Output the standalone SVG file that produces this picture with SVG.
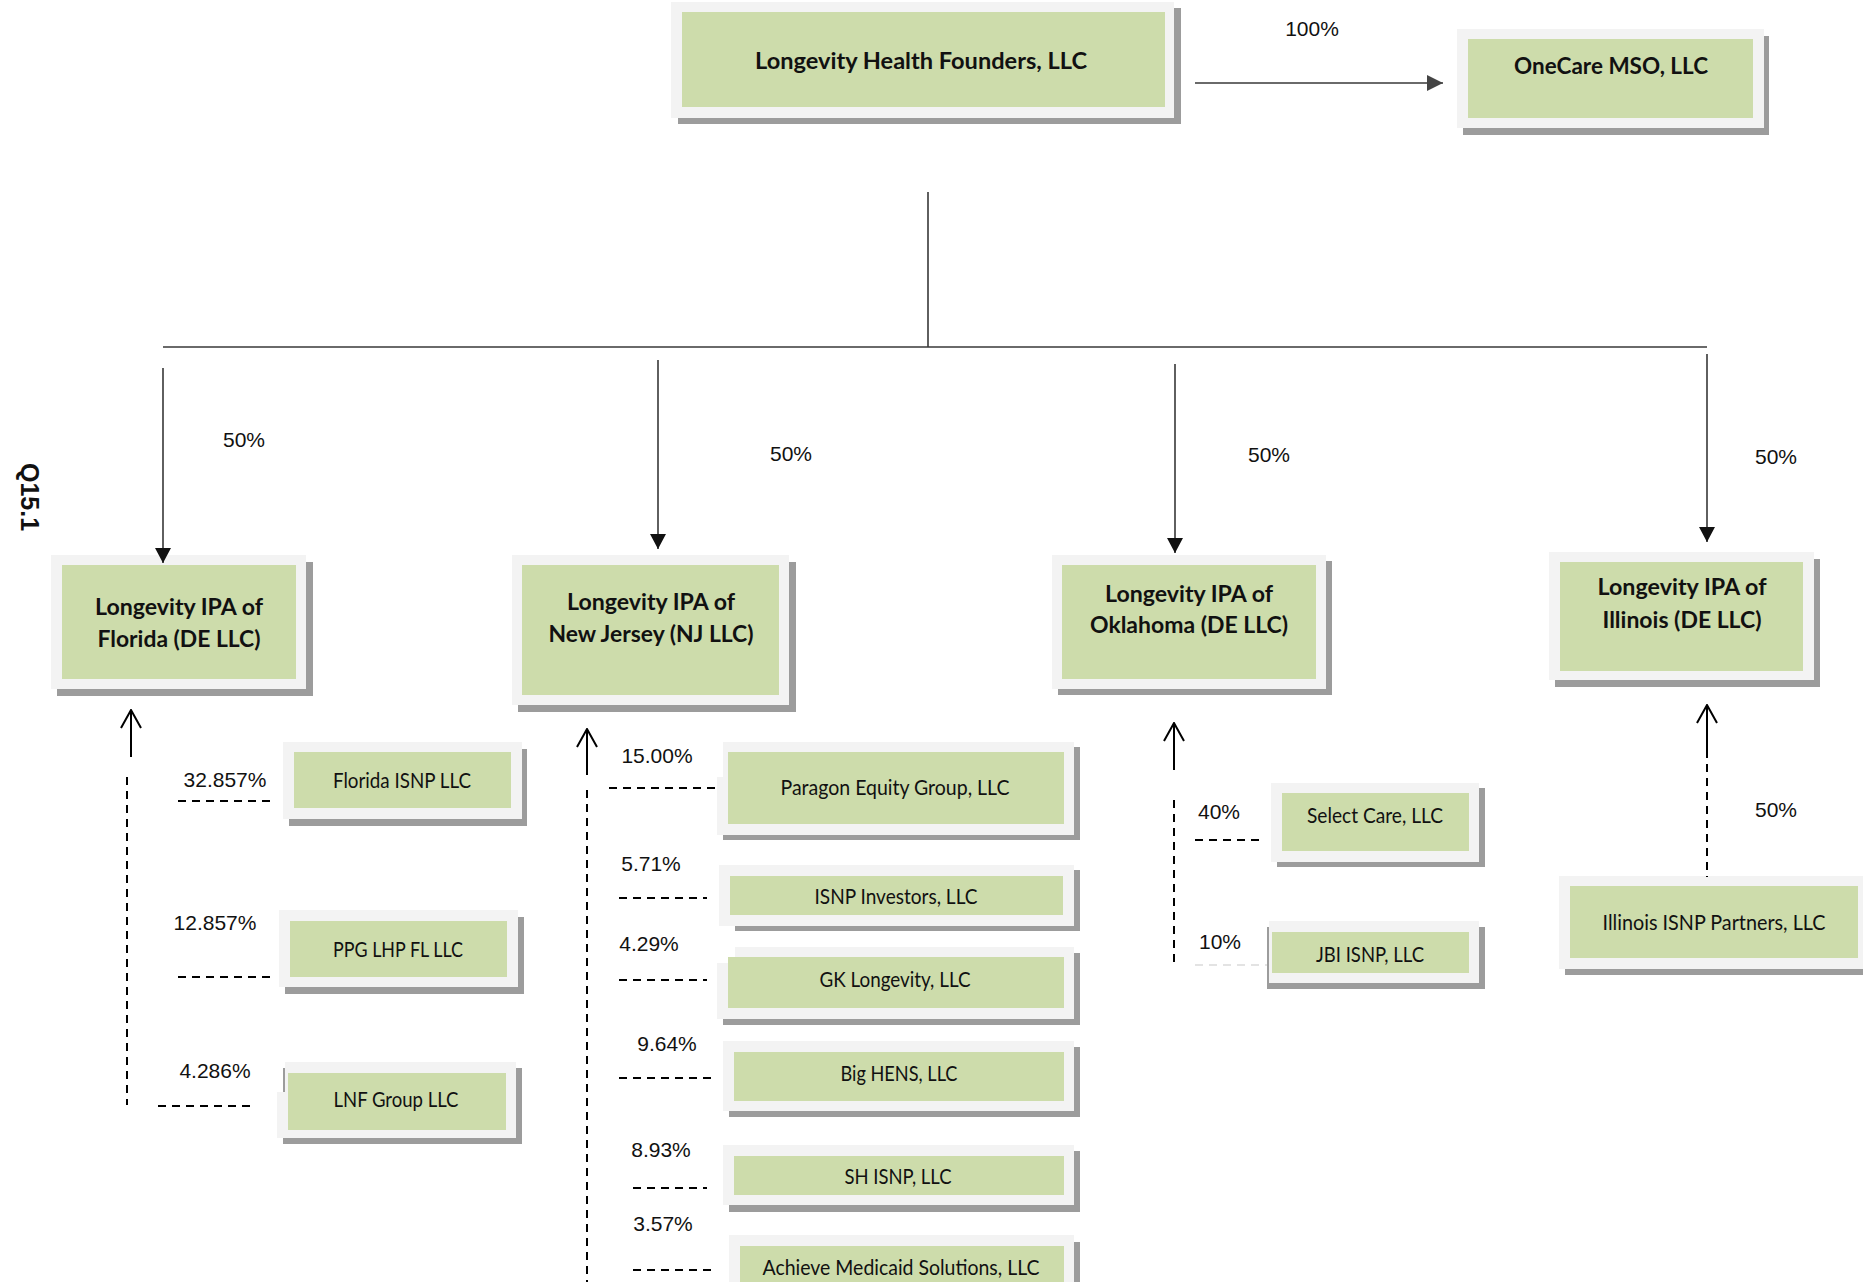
<svg xmlns="http://www.w3.org/2000/svg" width="1863" height="1282" viewBox="0 0 1863 1282">
<defs>
<style>
.sh{fill:#9c9c9c}
.bg{fill:#f3f3f3}
.gr{fill:#cddcab}
.nb{font-family:Lato,"Liberation Sans",sans-serif;font-weight:bold;font-size:23px;fill:#111;text-anchor:middle}
.nr{font-family:Lato,"Liberation Sans",sans-serif;font-size:21px;fill:#111;text-anchor:middle}
.pc{font-family:"Liberation Sans",Arial,sans-serif;font-size:21px;fill:#111;text-anchor:middle}
.ln{stroke:#383838;stroke-width:1.6;fill:none}
.up{stroke:#000;stroke-width:2;fill:none}
.da{stroke:#000;stroke-width:2;fill:none;stroke-dasharray:8 6}
</style>
<marker id="tri" viewBox="0 0 15 16" refX="15" refY="8" markerWidth="15" markerHeight="16" markerUnits="userSpaceOnUse" orient="auto">
<path d="M0,0 L15,8 L0,16 z" fill="#111"/>
</marker>
<marker id="tri2" viewBox="0 0 16 16" refX="16" refY="8" markerWidth="16" markerHeight="16" markerUnits="userSpaceOnUse" orient="auto">
<path d="M0,0 L16,8 L0,16 z" fill="#444"/>
</marker>
<marker id="open" viewBox="0 0 20 22" refX="19" refY="11" markerWidth="20" markerHeight="22" markerUnits="userSpaceOnUse" orient="auto">
<path d="M1,1 L19,11 L1,21" fill="none" stroke="#000" stroke-width="2"/>
</marker>
</defs>
<rect width="1863" height="1282" fill="#fff"/>

<g id="n-lhf">
<rect class="sh" x="678" y="8" width="503" height="116"/>
<rect class="bg" x="671" y="2" width="503" height="116"/>
<rect class="gr" x="682" y="12" width="483" height="95"/>
<text class="nb" x="921" y="69" textLength="332" lengthAdjust="spacingAndGlyphs">Longevity Health Founders, LLC</text>
</g>
<g id="n-onecare">
<rect class="sh" x="1463" y="36" width="306" height="99"/>
<rect class="bg" x="1457" y="29" width="307" height="99"/>
<rect class="gr" x="1468" y="39" width="285" height="79"/>
<text class="nb" x="1611" y="74" textLength="194" lengthAdjust="spacingAndGlyphs">OneCare MSO, LLC</text>
</g>
<g id="n-ipa-fl">
<rect class="sh" x="57" y="562" width="256" height="134"/>
<rect class="bg" x="51" y="555" width="255" height="134"/>
<rect class="gr" x="62" y="565" width="234" height="114"/>
<text class="nb" x="179" y="615" textLength="168" lengthAdjust="spacingAndGlyphs">Longevity IPA of</text>
<text class="nb" x="179" y="647" textLength="163" lengthAdjust="spacingAndGlyphs">Florida (DE LLC)</text>
</g>
<g id="n-ipa-nj">
<rect class="sh" x="518" y="562" width="278" height="150"/>
<rect class="bg" x="512" y="555" width="277" height="150"/>
<rect class="gr" x="522" y="565" width="257" height="130"/>
<text class="nb" x="651" y="610" textLength="168" lengthAdjust="spacingAndGlyphs">Longevity IPA of</text>
<text class="nb" x="651" y="642" textLength="205" lengthAdjust="spacingAndGlyphs">New Jersey (NJ LLC)</text>
</g>
<g id="n-ipa-ok">
<rect class="sh" x="1058" y="561" width="274" height="134"/>
<rect class="bg" x="1052" y="555" width="274" height="134"/>
<rect class="gr" x="1062" y="565" width="254" height="114"/>
<text class="nb" x="1189" y="602" textLength="168" lengthAdjust="spacingAndGlyphs">Longevity IPA of</text>
<text class="nb" x="1189" y="633" textLength="198" lengthAdjust="spacingAndGlyphs">Oklahoma (DE LLC)</text>
</g>
<g id="n-ipa-il">
<rect class="sh" x="1555" y="559" width="265" height="128"/>
<rect class="bg" x="1549" y="552" width="265" height="128"/>
<rect class="gr" x="1560" y="562" width="243" height="109"/>
<text class="nb" x="1682" y="595" textLength="169" lengthAdjust="spacingAndGlyphs">Longevity IPA of</text>
<text class="nb" x="1682" y="628" textLength="159" lengthAdjust="spacingAndGlyphs">Illinois (DE LLC)</text>
</g>

<g id="n-florida-isnp">
<rect class="sh" x="289" y="749" width="238" height="77"/>
<rect class="bg" x="283" y="742" width="239" height="77"/>
<rect class="gr" x="294" y="752" width="217" height="56"/>
<text class="nr" x="402" y="788" textLength="138" lengthAdjust="spacingAndGlyphs">Florida ISNP LLC</text>
</g>
<g id="n-ppg">
<rect class="sh" x="285" y="917" width="239" height="77"/>
<rect class="bg" x="279" y="910" width="239" height="77"/>
<rect class="gr" x="290" y="921" width="217" height="56"/>
<text class="nr" x="398" y="957" textLength="130" lengthAdjust="spacingAndGlyphs">PPG LHP FL LLC</text>
</g>
<g id="n-lnf">
<rect class="sh" x="283" y="1068" width="239" height="76"/>
<rect class="bg" x="285" y="1062" width="231" height="76"/>
<rect class="bg" x="277" y="1092" width="10" height="46"/>
<rect class="gr" x="288" y="1073" width="218" height="57"/>
<text class="nr" x="396" y="1107" textLength="125" lengthAdjust="spacingAndGlyphs">LNF Group LLC</text>
</g>

<g id="n-paragon">
<rect class="sh" x="723" y="747" width="357" height="93"/>
<rect class="bg" x="723" y="742" width="351" height="93"/>
<rect class="bg" x="717" y="777" width="8" height="58"/>
<rect class="gr" x="728" y="752" width="336" height="72"/>
<text class="nr" x="895" y="795" textLength="229" lengthAdjust="spacingAndGlyphs">Paragon Equity Group, LLC</text>
</g>
<g id="n-isnp-investors">
<rect class="sh" x="735" y="870" width="345" height="61"/>
<rect class="bg" x="719" y="865" width="355" height="61"/>
<rect class="gr" x="730" y="876" width="333" height="39"/>
<text class="nr" x="896" y="904" textLength="163" lengthAdjust="spacingAndGlyphs">ISNP Investors, LLC</text>
</g>
<g id="n-gk">
<rect class="sh" x="723" y="953" width="357" height="72"/>
<rect class="bg" x="717" y="947" width="357" height="72"/>
<rect fill="#fff" x="700" y="935" width="35" height="28"/>
<rect class="gr" x="728" y="957" width="336" height="51"/>
<text class="nr" x="895" y="987" textLength="151" lengthAdjust="spacingAndGlyphs">GK Longevity, LLC</text>
</g>
<g id="n-bighens">
<rect class="sh" x="729" y="1047" width="351" height="70"/>
<rect class="bg" x="723" y="1041" width="351" height="70"/>
<rect class="gr" x="734" y="1052" width="330" height="49"/>
<text class="nr" x="899" y="1081" textLength="117" lengthAdjust="spacingAndGlyphs">Big HENS, LLC</text>
</g>
<g id="n-sh-isnp">
<rect class="sh" x="729" y="1151" width="351" height="61"/>
<rect class="bg" x="723" y="1145" width="351" height="60"/>
<rect class="gr" x="734" y="1156" width="330" height="39"/>
<text class="nr" x="898" y="1184" textLength="107" lengthAdjust="spacingAndGlyphs">SH ISNP, LLC</text>
</g>
<g id="n-achieve">
<rect class="sh" x="735" y="1242" width="345" height="60"/>
<rect class="bg" x="729" y="1235" width="345" height="60"/>
<rect class="gr" x="740" y="1246" width="324" height="50"/>
<text class="nr" x="901" y="1275" textLength="277" lengthAdjust="spacingAndGlyphs">Achieve Medicaid Solutions, LLC</text>
</g>

<g id="n-selectcare">
<rect class="sh" x="1277" y="788" width="208" height="79"/>
<rect class="bg" x="1271" y="783" width="208" height="79"/>
<rect class="gr" x="1282" y="793" width="187" height="58"/>
<text class="nr" x="1375" y="823" textLength="136" lengthAdjust="spacingAndGlyphs">Select Care, LLC</text>
</g>
<g id="n-jbi">
<rect class="sh" x="1267" y="927" width="218" height="62"/>
<rect class="bg" x="1269" y="921" width="210" height="62"/>
<rect class="gr" x="1272" y="932" width="197" height="41"/>
<text class="nr" x="1370" y="962" textLength="108" lengthAdjust="spacingAndGlyphs">JBI ISNP, LLC</text>
</g>
<g id="n-il-isnp">
<rect class="sh" x="1565" y="882" width="310" height="93"/>
<rect class="bg" x="1559" y="876" width="310" height="93"/>
<rect class="gr" x="1570" y="886" width="288" height="72"/>
<text class="nr" x="1714" y="930" textLength="223" lengthAdjust="spacingAndGlyphs">Illinois ISNP Partners, LLC</text>
</g>

<g id="connectors">
<line class="ln" x1="1195" y1="83" x2="1443" y2="83" stroke="#444" marker-end="url(#tri2)"/>
<line class="ln" x1="928" y1="192" x2="928" y2="347"/>
<line class="ln" x1="163" y1="347" x2="1707" y2="347"/>
<line class="ln" x1="163" y1="368" x2="163" y2="563" marker-end="url(#tri)"/>
<line class="ln" x1="658" y1="360" x2="658" y2="549" marker-end="url(#tri)"/>
<line class="ln" x1="1175" y1="364" x2="1175" y2="553" marker-end="url(#tri)"/>
<line class="ln" x1="1707" y1="354" x2="1707" y2="542" marker-end="url(#tri)"/>

<line class="up" x1="131" y1="757" x2="131" y2="710" marker-end="url(#open)"/>
<line class="up" x1="587" y1="775" x2="587" y2="729" marker-end="url(#open)"/>
<line class="up" x1="1174" y1="770" x2="1174" y2="723" marker-end="url(#open)"/>
<line class="up" x1="1707" y1="750" x2="1707" y2="705" marker-end="url(#open)"/>

<line class="da" x1="127" y1="777" x2="127" y2="1105"/>
<line class="da" x1="587" y1="790" x2="587" y2="1282"/>
<line class="da" x1="1174" y1="800" x2="1174" y2="963"/>
<line class="da" x1="1707" y1="750" x2="1707" y2="877"/>

<line class="da" x1="178" y1="801" x2="272" y2="801"/>
<line class="da" x1="178" y1="977" x2="272" y2="977"/>
<line class="da" x1="158" y1="1106" x2="251" y2="1106"/>
<line class="da" x1="609" y1="788" x2="715" y2="788"/>
<line class="da" x1="619" y1="898" x2="707" y2="898"/>
<line class="da" x1="619" y1="980" x2="707" y2="980"/>
<line class="da" x1="619" y1="1078" x2="711" y2="1078"/>
<line class="da" x1="633" y1="1188" x2="707" y2="1188"/>
<line class="da" x1="633" y1="1270" x2="711" y2="1270"/>
<line class="da" x1="1195" y1="840" x2="1265" y2="840"/>
<line x1="1195" y1="965" x2="1267" y2="965" stroke="#c8c8c8" stroke-width="1.2" stroke-dasharray="8 6"/>
</g>

<g id="labels">
<text class="pc" x="1312" y="36">100%</text>
<text class="pc" x="244" y="447">50%</text>
<text class="pc" x="791" y="461">50%</text>
<text class="pc" x="1269" y="462">50%</text>
<text class="pc" x="1776" y="464">50%</text>
<text class="pc" x="1776" y="817">50%</text>
<text class="pc" x="225" y="787">32.857%</text>
<text class="pc" x="215" y="930">12.857%</text>
<text class="pc" x="215" y="1078">4.286%</text>
<text class="pc" x="657" y="763">15.00%</text>
<text class="pc" x="651" y="871">5.71%</text>
<text class="pc" x="649" y="951">4.29%</text>
<text class="pc" x="667" y="1051">9.64%</text>
<text class="pc" x="661" y="1157">8.93%</text>
<text class="pc" x="663" y="1231">3.57%</text>
<text class="pc" x="1219" y="819">40%</text>
<text class="pc" x="1220" y="949">10%</text>
<text transform="translate(30,497) rotate(90)" x="0" y="0" dominant-baseline="central" style="font-family:'Liberation Sans',Arial,sans-serif;font-weight:bold;font-size:25px;fill:#111;text-anchor:middle">Q15.1</text>
</g>
</svg>
